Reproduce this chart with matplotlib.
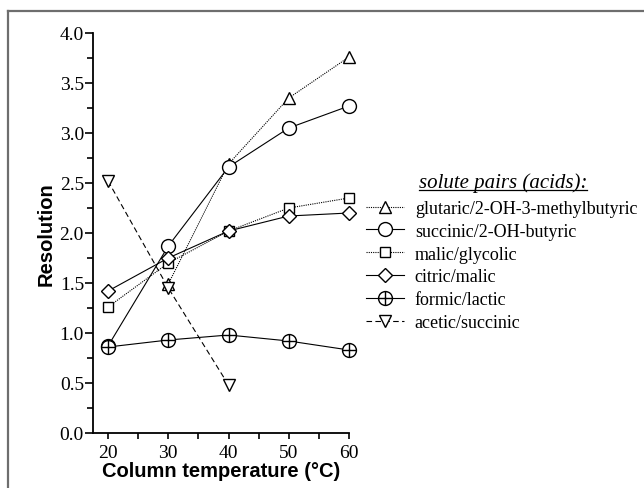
import matplotlib
matplotlib.use("Agg")
import matplotlib.pyplot as plt
from matplotlib.path import Path
from matplotlib.lines import Line2D
from matplotlib.ticker import MultipleLocator, FormatStrFormatter
import numpy as np

# column temperature (deg C) and resolution for each solute pair
temps = [20, 30, 40, 50, 60]
glutaric = [np.nan, 1.49, 2.69, 3.35, 3.76]
succinic = [0.87, 1.87, 2.66, 3.05, 3.27]
malic_glycolic = [1.26, 1.70, 2.02, 2.25, 2.35]
citric_malic = [1.42, 1.75, 2.02, 2.17, 2.20]
formic_lactic = [0.86, 0.93, 0.98, 0.92, 0.83]
acetic_temps = [20, 30, 40]
acetic_succinic = [2.52, 1.45, 0.48]

labels = ["glutaric/2-OH-3-methylbutyric", "succinic/2-OH-butyric",
          "malic/glycolic", "citric/malic", "formic/lactic", "acetic/succinic"]

# circle with a cross through it
circ_plus = Path.make_compound_path(
    Path.unit_circle(),
    Path([[-1, 0], [1, 0]], [Path.MOVETO, Path.LINETO]),
    Path([[0, -1], [0, 1]], [Path.MOVETO, Path.LINETO]),
)

serif = "Liberation Serif"
sans = "Liberation Sans"
W, H = 644, 489

fig = plt.figure(figsize=(6.44, 4.89), dpi=100)
ax = fig.add_axes([93 / W, 1 - 434 / H, (349 - 93) / W, (434 - 34) / H])

kw = dict(color="black", lw=0.8, mfc="white", mec="black", mew=1.0, clip_on=False)
ax.plot(temps, glutaric, ls=(0, (1, 1)), marker="^", ms=8.8, label=labels[0], **kw)
ax.plot(temps, succinic, ls="-", marker="o", ms=10, label=labels[1], **kw)
ax.plot(temps, malic_glycolic, ls=(0, (1, 1)), marker="s", ms=7, label=labels[2], **kw)
ax.plot(temps, citric_malic, ls="-", marker="D", ms=6.8, label=labels[3], **kw)
ax.plot(temps, formic_lactic, ls="-", marker=circ_plus, ms=10, label=labels[4], **kw)
ax.plot(acetic_temps, acetic_succinic, ls=(0, (5, 3)), marker="v", ms=8.8, label=labels[5], **kw)

ax.set_xlim(17.5, 60)
ax.set_ylim(0, 4.0)
ax.set_xticks([20, 30, 40, 50, 60])
ax.xaxis.set_minor_locator(MultipleLocator(5))
ax.yaxis.set_major_locator(MultipleLocator(0.5))
ax.yaxis.set_minor_locator(MultipleLocator(0.25))
ax.yaxis.set_major_formatter(FormatStrFormatter("%.1f"))
ax.tick_params(which="both", direction="out", width=1.2, labelsize=14)
ax.tick_params(axis="y", which="major", length=6, pad=0.5)
ax.tick_params(axis="y", which="minor", length=4)
ax.tick_params(axis="x", which="both", length=4, pad=4)
for lab in ax.get_xticklabels() + ax.get_yticklabels():
    lab.set_fontfamily(serif)
ax.spines["top"].set_visible(False)
ax.spines["right"].set_visible(False)
for s in ("left", "bottom"):
    ax.spines[s].set_linewidth(1.3)

ax.set_xlabel("Column temperature (\u00b0C)", fontfamily=sans, fontweight="bold",
              fontsize=14.5, labelpad=0)
ax.set_ylabel("Resolution", fontfamily=sans, fontweight="bold", fontsize=14.5,
              labelpad=3)

leg = fig.legend(loc="upper left", bbox_to_anchor=(366 / W, 1 - 201 / H), frameon=False,
                 borderpad=0, borderaxespad=0,
                 handlelength=2.1, handletextpad=0.6, labelspacing=0.32,
                 prop={"family": serif, "size": 13})

title = fig.text(503 / W, 1 - 188 / H, "solute pairs (acids):", ha="center", va="baseline",
                 fontfamily=serif, fontstyle="italic", fontsize=15)
fig.canvas.draw()
bb = title.get_window_extent().transformed(fig.transFigure.inverted())
uy = 1 - 191 / H
fig.add_artist(Line2D([bb.x0, bb.x1], [uy, uy],
                      transform=fig.transFigure, color="black", lw=0.9))

# grey border along top and left of the panel
fig.add_artist(Line2D([8 / W, 1.0], [1 - 12 / H, 1 - 12 / H],
                      transform=fig.transFigure, color="#6e6e6e", lw=1.6))
fig.add_artist(Line2D([8 / W, 8 / W], [0.0, 1 - 12 / H],
                      transform=fig.transFigure, color="#6e6e6e", lw=1.6))

fig.savefig("out.png", dpi=100, facecolor="white")
